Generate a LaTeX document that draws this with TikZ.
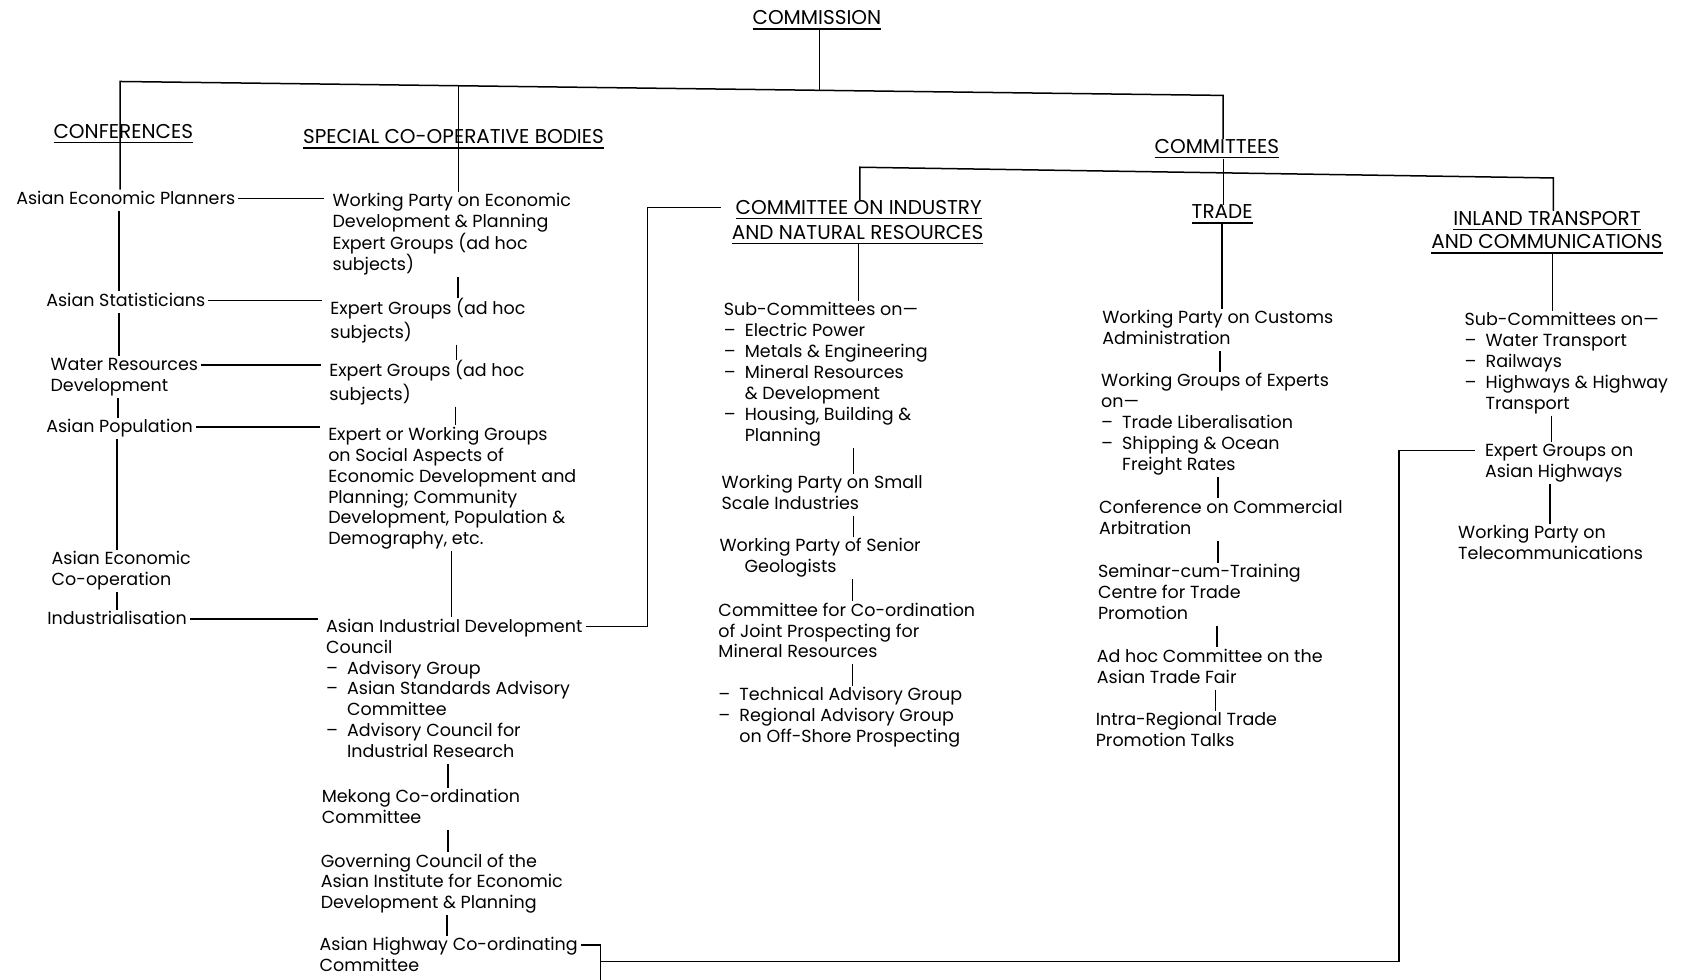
\documentclass[tikz,border=0pt]{standalone}
\usepackage{fontspec}
\setmainfont{Poppins}
\usetikzlibrary{calc}
\newcommand\fsz{\fontsize{17.5}{20.9}\selectfont}
\newcommand\hsz{\fontsize{20}{22}\selectfont}
\newcommand\ulx[1]{\setbox0=\hbox{#1}\rlap{\rule[-5pt]{\wd0}{1.5pt}}\box0}
\newcommand\di{\makebox[21pt][l]{--}}
\newcommand\ii{\hspace*{21pt}}
\newcommand\vl[3]{\coordinate (vx) at (#3,0); \draw[ln] (#1.south -| vx) -- (#2.north -| vx);}
\newcommand\hl[2]{\coordinate (ha) at ($(#1.north east)+(3pt,-9pt)$); \draw[ln] (ha) -- ($(ha -| #2.west)+(-8pt,0)$);}
\tikzset{
  txt/.style={anchor=north west, inner sep=0pt, align=left, font=\fsz, yshift=8.7pt},
  head/.style={anchor=base, inner sep=0pt, font=\hsz},
  ln/.style={line width=1.5pt}
}
\begin{document}
\begin{tikzpicture}[x=1.072pt,y=-1.072pt]
\useasboundingbox (0,0) rectangle (1568,914);
% headings
\node[head] (cms) at (762,23) {\ulx{COMMISSION}};
\node[head] (conf) at (115,129) {\ulx{CONFERENCES}};
\node[head] (scb) at (423,134) {\ulx{SPECIAL CO-OPERATIVE BODIES}};
\node[head] (comm) at (1135,143) {\ulx{COMMITTEES}};
\node[head] (cinr1) at (801,200) {\ulx{COMMITTEE ON INDUSTRY}};
\node[head] (cinr2) at (800,223) {\ulx{AND NATURAL RESOURCES}};
\node[head] (trade) at (1140,204) {\ulx{TRADE}};
\node[head] (itc1) at (1443,210) {\ulx{INLAND TRANSPORT}};
\node[head] (itc2) at (1443,232) {\ulx{AND COMMUNICATIONS}};
% conferences
\node[txt] (aep) at (15,185) {\strut Asian Economic Planners\strut};
\node[txt] (ast) at (43,280) {\strut Asian Statisticians\strut};
\node[txt] (wrd) at (47,340) {\strut Water Resources\\Development\strut};
\node[txt] (apop) at (43,398) {\strut Asian Population\strut};
\node[txt] (aec) at (48,521) {\strut Asian Economic\\Co-operation\strut};
\node[txt] (ind) at (44,577) {\strut Industrialisation\strut};
% special co-operative bodies
\node[txt] (wpe) at (310,187) {\strut Working Party on Economic\\Development \& Planning\\Expert Groups (ad hoc\\subjects)\strut};
\node[txt] (eg1) at (308,286) {\strut Expert Groups (ad hoc\\subjects)\strut};
\node[txt] (eg2) at (307,344) {\strut Expert Groups (ad hoc\\subjects)\strut};
\node[txt] (ewg) at (306,405) {\strut Expert or Working Groups\\on Social Aspects of\\Economic Development and\\Planning; Community\\Development, Population \&\\Demography, etc.\strut};
\node[txt] (aidc) at (304,584) {\strut Asian Industrial Development\\Council\\\di Advisory Group\\\di Asian Standards Advisory\\\ii Committee\\\di Advisory Council for\\\ii Industrial Research\strut};
\node[txt] (mek) at (300,743) {\strut Mekong Co-ordination\\Committee\strut};
\node[txt] (gov) at (299,803) {\strut Governing Council of the\\Asian Institute for Economic\\Development \& Planning\strut};
\node[txt] (ahc) at (298,881) {\strut Asian Highway Co-ordinating\\Committee\strut};
% industry
\node[txt] (sci) at (675,289) {\strut Sub-Committees on---\\\di Electric Power\\\di Metals \& Engineering\\\di Mineral Resources\\\ii \& Development\\\di Housing, Building \&\\\ii Planning\strut};
\node[txt] (wps) at (673,450) {\strut Working Party on Small\\Scale Industries\strut};
\node[txt] (wpg) at (671,509) {\strut Working Party of Senior\\\hspace*{25pt}Geologists\strut};
\node[txt] (ccj) at (670,569) {\strut Committee for Co-ordination\\of Joint Prospecting for\\Mineral Resources\strut};
\node[txt] (tag) at (670,648) {\strut\di Technical Advisory Group\\\di Regional Advisory Group\\\ii on Off-Shore Prospecting\strut};
% trade
\node[txt] (wpc) at (1028,296) {\strut Working Party on Customs\\Administration\strut};
\node[txt] (wge) at (1027,355) {\strut Working Groups of Experts\\on---\\\di Trade Liberalisation\\\di Shipping \& Ocean\\\ii Freight Rates\strut};
\node[txt] (cca) at (1025,473) {\strut Conference on Commercial\\Arbitration\strut};
\node[txt] (sct) at (1024,533) {\strut Seminar-cum-Training\\Centre for Trade\\Promotion\strut};
\node[txt] (ahct) at (1023,612) {\strut Ad hoc Committee on the\\Asian Trade Fair\strut};
\node[txt] (irt) at (1022,671) {\strut Intra-Regional Trade\\Promotion Talks\strut};
% inland transport
\node[txt] (scw) at (1366,298) {\strut Sub-Committees on---\\\di Water Transport\\\di Railways\\\di Highways \& Highway\\\ii Transport\strut};
\node[txt] (eah) at (1385,420) {\strut Expert Groups on\\Asian Highways\strut};
\node[txt] (wpt) at (1360,497) {\strut Working Party on\\Telecommunications\strut};
% main bus
\coordinate (bL) at (112,76);
\coordinate (bR) at (1141,89);
\draw[ln] (aep.north -| bL) -- (bL) -- (bR) -- (comm.north -| bR);
\coordinate (s0) at ($(bL)!0.634!(bR)$);
\draw[ln] (cms.south -| s0) -- (s0);
\coordinate (s1) at ($(bL)!0.3068!(bR)$);
\draw[ln] (s1) -- (s1 |- wpe.north);
% committees bus
\coordinate (cL) at (802,156);
\coordinate (cR) at (1449,166);
\draw[ln] (cinr1.north -| cL) -- (cL) -- (cR) -- (itc1.north -| cR);
\coordinate (s2) at ($(cL)!0.524!(cR)$);
\draw[ln] (comm.south -| s2) -- (s2 |- trade.north);
% chains
\vl{aep}{ast}{111}
\vl{ast}{wrd}{111}
\vl{wrd}{apop}{110}
\vl{apop}{aec}{109}
\vl{aec}{ind}{109}
\vl{wpe}{eg1}{427}
\vl{eg1}{eg2}{426}
\vl{eg2}{ewg}{425}
\vl{ewg}{aidc}{421}
\vl{aidc}{mek}{418}
\vl{mek}{gov}{418}
\vl{gov}{ahc}{417}
\vl{cinr2}{sci}{801}
\vl{sci}{wps}{796}
\vl{wps}{wpg}{796}
\vl{wpg}{ccj}{795}
\vl{ccj}{tag}{795}
\vl{trade}{wpc}{1140}
\vl{wpc}{wge}{1138}
\vl{wge}{cca}{1136}
\vl{cca}{sct}{1136}
\vl{sct}{ahct}{1135}
\vl{ahct}{irt}{1134}
\vl{itc2}{scw}{1448}
\vl{scw}{eah}{1447}
\vl{eah}{wpt}{1446}
% cross links
\hl{aep}{wpe}
\hl{ast}{eg1}
\hl{wrd}{eg2}
\hl{apop}{ewg}
\hl{ind}{aidc}
\coordinate (k1) at ($(aidc.north east)+(3pt,-9pt)$);
\coordinate (kx) at (604,0);
\coordinate (k2) at ($(cinr1.base west)+(-14pt,7pt)$);
\draw[ln] (k1) -| (kx |- k2) -- (k2);
\coordinate (m1) at ($(ahc.north east)+(3pt,-9pt)$);
\coordinate (mx) at (560,914);
\coordinate (mj) at (560,897);
\coordinate (mx2) at (1305,0);
\coordinate (m2) at ($(eah.north west)+(-10pt,-9pt)$);
\draw[ln] (m1) -| (mx);
\draw[ln] (mj) -| (mx2 |- m2) -- (m2);
\end{tikzpicture}
\end{document}
